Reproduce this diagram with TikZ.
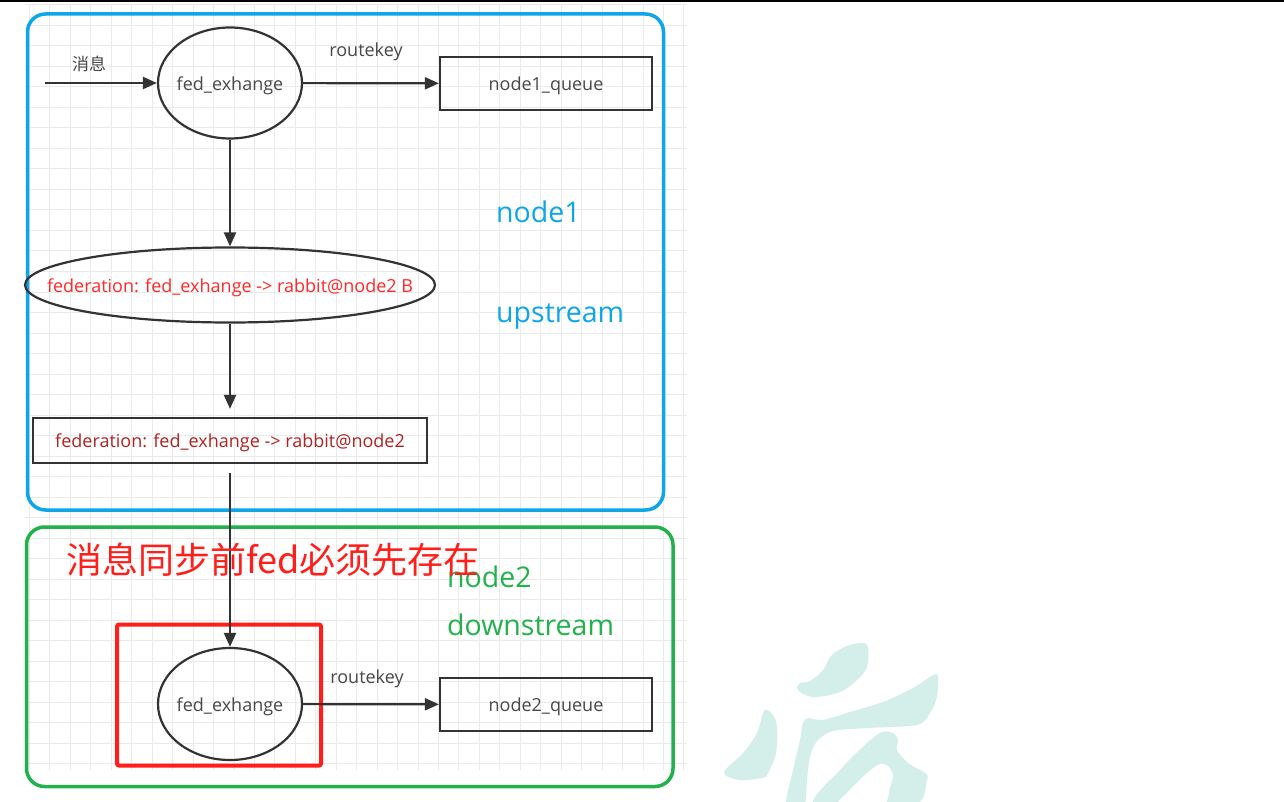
\documentclass[tikz,border=0pt]{standalone}
\usepackage{fontspec}
\setmainfont{Open Sans}
\newfontfamily\cjk{Noto Sans CJK SC}
\usetikzlibrary{shapes.geometric,arrows.meta}
\definecolor{txtgray}{RGB}{72,72,72}
\definecolor{linegray}{RGB}{51,51,51}
\definecolor{gridc}{RGB}{234,234,234}
\definecolor{blueb}{RGB}{14,165,233}
\definecolor{greenb}{RGB}{34,177,76}
\definecolor{redb}{RGB}{255,30,25}
\definecolor{fedred}{RGB}{255,40,40}
\definecolor{darkred}{RGB}{175,35,35}
\definecolor{wm}{RGB}{212,239,234}
\tikzset{
  gridline/.style={draw=gridc, line width=1pt},
  shp/.style={draw=linegray, line width=2.2pt, inner sep=0pt},
  ell/.style={shp, ellipse},
  qbox/.style={shp, rectangle},
  arr/.style={draw=linegray, line width=2.2pt, -{Triangle[length=14pt,width=12pt]}},
  lbl/.style={text=txtgray, inner sep=0pt, font=\fontsize{18}{20}\selectfont},
  inlbl/.style={lbl, yshift=-2.5pt},
  biglbl/.style={inner sep=0pt, anchor=base west, font=\fontsize{28.5}{30}\selectfont},
  zone/.style={line width=3.5pt, rounded corners=18pt},
}
\begin{document}
\begin{tikzpicture}[x=1pt,y=-1pt]
\useasboundingbox (0,0) rectangle (1284,802);
\fill[white] (0,0) rectangle (1284,802);
% grid
\foreach \i in {0,...,32} \draw[gridline] ({29.5+20.45*\i},5) -- ({29.5+20.45*\i},770);
\foreach \j in {0,...,37} \draw[gridline] (25,{5+20.5*\j}) -- (687,{5+20.5*\j});
% top line
\draw[black, line width=2pt] (0,1) -- (1284,1);
% watermark
\fill[wm] plot[smooth cycle, tension=0.6] coordinates {(863,643) (868,648) (867,667) (857,680) (840,692) (813,697) (798,690) (800,683) (810,681) (823,670) (832,655) (847,646)};
\fill[wm] plot[smooth cycle, tension=0.6] coordinates {(767,710) (773,715) (777,727) (776,753) (768,773) (762,778) (740,780) (725,775) (727,768) (743,753) (757,733) (763,713)};
\fill[wm] plot[smooth cycle, tension=0.5] coordinates {(808,718) (823,720) (850,712) (883,702) (913,688) (933,675) (938,677) (937,697) (930,713) (917,725) (867,728) (833,731) (817,741) (810,757) (807,780) (804,806) (786,806) (793,770) (800,740) (803,723)};
\fill[wm] plot[smooth cycle, tension=0.5] coordinates {(815,806) (840,770) (867,743) (882,732) (893,733) (898,740) (897,750) (908,763) (925,773) (927,780) (912,806)};
\fill[white] plot[smooth cycle, tension=0.5] coordinates {(838,806) (847,793) (867,773) (880,764) (888,766) (893,775) (890,787) (882,806)};
% zones
\draw[zone, draw=blueb] (27.5,14) rectangle (663.5,510);
\draw[zone, draw=greenb] (26.5,527) rectangle (673,786.5);
% nodes
\coordinate (in) at (45,83);
\node[ell, minimum width=144pt, minimum height=111pt] (c1) at (230,83) {};
\node[inlbl] (c1t) at (c1.center) {fed\_exhange};
\node[qbox, minimum width=212pt, minimum height=53pt] (q1) at (546,83.5) {};
\node[inlbl] (q1t) at (q1.center) {node1\_queue};
\node[ell, minimum width=410pt, minimum height=75pt] (e2) at (230,285) {};
\node[inlbl, text=fedred] (e2t) at (e2.center) {federation: fed\_exhange -> rabbit@node2 B};
\node[qbox, minimum width=394pt, minimum height=45pt] (r3) at (230,440.5) {};
\node[inlbl, text=darkred] (r3t) at (r3.center) {federation: fed\_exhange -> rabbit@node2};
\node[ell, minimum width=144pt, minimum height=112pt] (c4) at (230,704) {};
\node[inlbl] (c4t) at (c4.center) {fed\_exhange};
\node[qbox, minimum width=212pt, minimum height=53pt] (q2) at (546,704.5) {};
\node[inlbl] (q2t) at (q2.center) {node2\_queue};
\node[draw=redb, line width=4pt, rounded corners=2pt, minimum width=204pt, minimum height=141pt, inner sep=0pt] (rb) at (219,695) {};
% labels
\node[lbl, anchor=base, font=\cjk\fontsize{17}{19}\selectfont] (msg) at (89,71) {消息};
\node[lbl, anchor=base] (rk1) at (366,57) {routekey};
\node[lbl, anchor=base] (rk2) at (367,683) {routekey};
\node[biglbl, text=blueb] (n1) at (496,223) {node1};
\node[biglbl, text=blueb] (up) at (496,322) {upstream};
\node[biglbl, text=greenb] (n2) at (447,587) {node2};
\node[biglbl, text=greenb] (down) at (447,635) {downstream};
% connectors
\draw[arr] (in) -- (c1);
\draw[arr] (c1) -- (q1);
\draw[arr] (c1) -- (e2);
\draw[arr, shorten >=8pt] (e2) -- (r3);
\draw[arr, shorten <=9pt] (r3) -- (c4);
\draw[arr] (c4) -- (q2);
% big red note
\node[inner sep=0pt, anchor=base west, text=redb, font=\cjk\fontsize{36}{38}\selectfont] (note) at (66,573) {消息同步前fed必须先存在};
\end{tikzpicture}
\end{document}
